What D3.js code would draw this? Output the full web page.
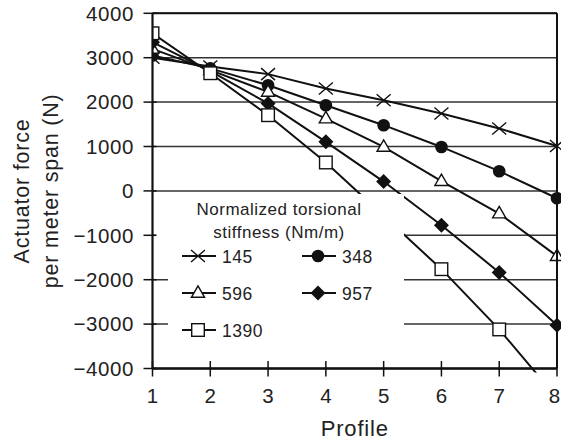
<!DOCTYPE html>
<html><head><meta charset="utf-8">
<script src="https://cdn.jsdelivr.net/npm/d3@7"></script>
<style>
body{margin:0;background:#fff;}
text{font-family:"Liberation Sans",Arial,Helvetica,sans-serif;fill:#222;}
</style></head>
<body>
<svg id="chart" width="561" height="444"></svg>
<script>
// ---- data ----
const profiles = [1, 2, 3, 4, 5, 6, 7, 8];
const s145  = [3000, 2800, 2630, 2305, 2040, 1745, 1405, 1013];
const s348  = [3050, 2760, 2380, 1930, 1480, 990, 444, -165];
const s596  = [3200, 2720, 2230, 1630, 990, 220, -510, -1470];
const s957  = [3350, 2700, 1970, 1105, 210, -773, -1838, -3025];
const s1390 = [3550, 2650, 1705, 640, -560, -1763, -3120, -4660];
const seriesNames = ["145", "348", "596", "957", "1390"];
const seriesSymbols = ["cross", "circle", "triangle", "diamond", "square"];
const yTicks = [4000, 3000, 2000, 1000, 0, -1000, -2000, -3000, -4000];

const series = [s145, s348, s596, s957, s1390].map((v, i) => ({
  name: seriesNames[i], sym: seriesSymbols[i], values: v
}));

const svg = d3.select("#chart");
const x = d3.scaleLinear().domain([1, 8]).range([152.5, 557]);
const y = d3.scaleLinear().domain([-4000, 4000]).range([368.5, 13.3]);

// clip
svg.append("defs").append("clipPath").attr("id", "clip")
  .append("rect").attr("x", x(1)).attr("y", y(4000) - 10)
  .attr("width", x(8) - x(1) + 10).attr("height", y(-4000) - y(4000) + 14);

// gridlines
svg.append("g").selectAll("line").data(yTicks).join("line")
  .attr("x1", x(1)).attr("x2", x(8))
  .attr("y1", d => y(d)).attr("y2", d => y(d))
  .attr("stroke", "#333").attr("stroke-width", 1.5);

// data
const plot = svg.append("g").attr("clip-path", "url(#clip)");
const line = d3.line().x((d, i) => x(profiles[i])).y(d => y(d));
function drawSymbol(g, sym, cx, cy) {
  if (sym === "cross") {
    g.append("path").attr("d", `M${cx-7},${cy-6}L${cx+7},${cy+6}M${cx-7},${cy+6}L${cx+7},${cy-6}`)
      .attr("stroke", "#111").attr("stroke-width", 1.4).attr("fill", "none");
  } else if (sym === "circle") {
    g.append("circle").attr("cx", cx).attr("cy", cy).attr("r", 6.3).attr("fill", "#111");
  } else if (sym === "triangle") {
    g.append("path").attr("d", d3.symbol(d3.symbolTriangle, 75)())
      .attr("transform", `translate(${cx},${cy+0.5})`)
      .attr("fill", "#fff").attr("stroke", "#111").attr("stroke-width", 1.4);
  } else if (sym === "diamond") {
    g.append("path").attr("d", `M${cx},${cy-7.5}L${cx+7.5},${cy}L${cx},${cy+7.5}L${cx-7.5},${cy}Z`)
      .attr("fill", "#111");
  } else if (sym === "square") {
    g.append("rect").attr("x", cx - 6.3).attr("y", cy - 6.3).attr("width", 12.6).attr("height", 12.6)
      .attr("fill", "#fff").attr("stroke", "#111").attr("stroke-width", 1.4);
  }
}
series.forEach(s => {
  plot.append("path").attr("d", line(s.values)).attr("fill", "none")
    .attr("stroke", "#111").attr("stroke-width", 2);
});
series.forEach(s => {
  const g = plot.append("g");
  s.values.forEach((v, i) => drawSymbol(g, s.sym, x(profiles[i]), y(v)));
});

// legend box
const leg = svg.append("g");
leg.append("rect").attr("x", 156).attr("y", 194).attr("width", 248).attr("height", 46).attr("fill", "#fff");
leg.append("rect").attr("x", 168).attr("y", 238).attr("width", 236).attr("height", 112).attr("fill", "#fff");
leg.append("text").attr("x", 279).attr("y", 215).attr("text-anchor", "middle")
  .attr("font-size", 17).attr("letter-spacing", 0.5).text("Normalized torsional");
leg.append("text").attr("x", 279).attr("y", 237.5).attr("text-anchor", "middle")
  .attr("font-size", 17).attr("letter-spacing", 0.5).text("stiffness (Nm/m)");
const legPos = [[182, 256], [302, 256], [182, 293], [302, 293], [182, 330]];
series.forEach((s, i) => {
  const [lx, ly] = legPos[i];
  leg.append("line").attr("x1", lx).attr("x2", lx + 34).attr("y1", ly).attr("y2", ly)
    .attr("stroke", "#111").attr("stroke-width", 2);
  drawSymbol(leg, s.sym, lx + 16, ly);
  leg.append("text").attr("x", lx + 40).attr("y", ly + 6.5)
    .attr("font-size", 17.5).attr("letter-spacing", 0.5).text(s.name);
});

// axes
const ax = svg.append("g");
ax.append("line").attr("x1", x(1)).attr("x2", x(1)).attr("y1", y(4000)).attr("y2", y(-4000))
  .attr("stroke", "#111").attr("stroke-width", 2.2);
ax.append("line").attr("x1", x(8)).attr("x2", x(8)).attr("y1", y(4000)).attr("y2", y(-4000))
  .attr("stroke", "#111").attr("stroke-width", 2);
ax.append("line").attr("x1", x(1)).attr("x2", x(8)).attr("y1", y(-4000)).attr("y2", y(-4000))
  .attr("stroke", "#111").attr("stroke-width", 2.4);
ax.append("line").attr("x1", x(1)).attr("x2", x(8)).attr("y1", y(4000)).attr("y2", y(4000))
  .attr("stroke", "#111").attr("stroke-width", 2);
// y ticks
ax.selectAll(".yt").data(yTicks).join("line").attr("class", "yt")
  .attr("x1", x(1) - 9).attr("x2", x(1) + 4).attr("y1", d => y(d)).attr("y2", d => y(d))
  .attr("stroke", "#111").attr("stroke-width", 1.5);
ax.selectAll(".yl").data(yTicks).join("text").attr("class", "yl")
  .attr("x", 134).attr("y", d => y(d) + 7.3).attr("text-anchor", "end")
  .attr("font-size", 20.5).attr("letter-spacing", 0.6)
  .text(d => d < 0 ? "\u2212" + Math.abs(d) : String(d));
// x ticks
ax.selectAll(".xt").data(profiles).join("line").attr("class", "xt")
  .attr("x1", d => x(d)).attr("x2", d => x(d)).attr("y1", y(-4000) - 7.5).attr("y2", y(-4000) + 8)
  .attr("stroke", "#111").attr("stroke-width", 1.5);
ax.selectAll(".xl").data(profiles).join("text").attr("class", "xl")
  .attr("x", d => Math.min(x(d), 554.5)).attr("y", 402.5).attr("text-anchor", "middle")
  .attr("font-size", 20.5).text(d => d);

// titles
svg.append("text").attr("x", (x(1) + x(8)) / 2).attr("y", 436).attr("text-anchor", "middle")
  .attr("font-size", 22).attr("letter-spacing", 0.8).text("Profile");
svg.append("text").attr("transform", `translate(28.5,${y(0)}) rotate(-90)`).attr("text-anchor", "middle")
  .attr("font-size", 21.5).attr("letter-spacing", 0.8).text("Actuator force");
svg.append("text").attr("transform", `translate(58,${y(0)}) rotate(-90)`).attr("text-anchor", "middle")
  .attr("font-size", 21.5).attr("letter-spacing", 0.8).text("per meter span (N)");
</script>
</body></html>
